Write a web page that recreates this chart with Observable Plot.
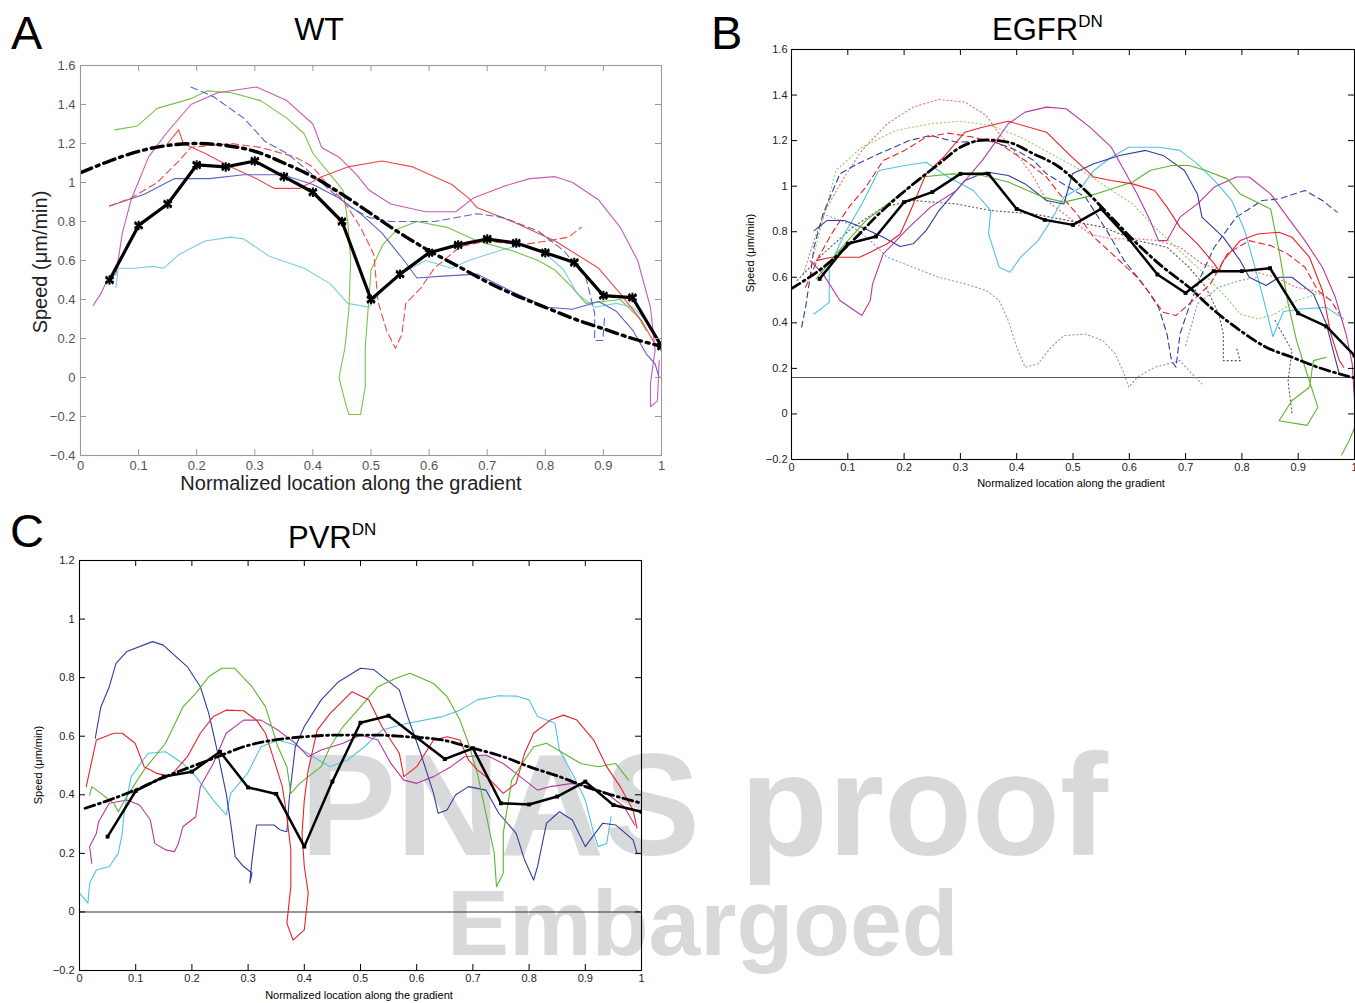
<!DOCTYPE html>
<html><head><meta charset="utf-8">
<script src="https://cdn.jsdelivr.net/npm/d3@7"></script>
<script src="https://cdn.jsdelivr.net/npm/@observablehq/plot@0.6"></script>
<style>
body{margin:0;background:#fff;width:1355px;height:1003px;position:relative;overflow:hidden;font-family:"Liberation Sans",Arial,sans-serif}
.panel{position:absolute;z-index:2}
.layer{position:absolute;left:0;top:0}
</style></head><body>
<svg class="layer" style="z-index:1" width="1355" height="1003">
  <g font-family="Liberation Sans, Arial, sans-serif" font-weight="bold" fill="#d8d9db">
    <text x="300" y="855" font-size="144">PNAS proof</text>
    <text x="447" y="955" font-size="93">Embargoed</text>
  </g>
</svg>
<div id="pa" class="panel" style="left:0;top:0"></div>
<div id="pb" class="panel" style="left:700px;top:0"></div>
<div id="pc" class="panel" style="left:0;top:500px"></div>
<svg class="layer" style="z-index:3;pointer-events:none" width="1355" height="1003">
  <g font-family="Liberation Sans, Arial, sans-serif" fill="#000">
    <text x="11" y="49" font-size="47">A</text>
    <text x="711" y="49" font-size="47">B</text>
    <text x="10" y="547" font-size="47">C</text>
    <text x="319" y="40" font-size="32" text-anchor="middle">WT</text>
    <text x="992" y="40" font-size="31">EGFR<tspan font-size="17" dy="-13">DN</tspan></text>
    <text x="288" y="548" font-size="31">PVR<tspan font-size="17" dy="-13">DN</tspan></text>
    <text x="351" y="490" font-size="20" text-anchor="middle" fill="#222">Normalized location along the gradient</text>
    <text transform="translate(47,262) rotate(-90)" font-size="20" text-anchor="middle" fill="#222">Speed (μm/min)</text>
    <text x="1071" y="487" font-size="11" text-anchor="middle">Normalized location along the gradient</text>
    <text transform="translate(754,253) rotate(-90)" font-size="11" text-anchor="middle">Speed (μm/min)</text>
    <text x="359" y="999" font-size="11" text-anchor="middle">Normalized location along the gradient</text>
    <text transform="translate(42,765) rotate(-90)" font-size="11" text-anchor="middle">Speed (μm/min)</text>
  </g>
</svg>
<script>
// ---------- shared tick values ----------
const xTicks = [0,0.1,0.2,0.3,0.4,0.5,0.6,0.7,0.8,0.9,1];
const yTicksA = [-0.4,-0.2,0,0.2,0.4,0.6,0.8,1,1.2,1.4,1.6];
const yTicksB = [-0.2,0,0.2,0.4,0.6,0.8,1,1.2,1.4,1.6];
const yTicksC = [-0.2,0,0.2,0.4,0.6,0.8,1,1.2];
const meanX = [0.05,0.1,0.15,0.2,0.25,0.3,0.35,0.4,0.45,0.5,0.55,0.6,0.65,0.7,0.75,0.8,0.85,0.9,0.95,1];

// ---------- Panel A (WT) ----------
const wtMean = [0.50,0.78,0.89,1.09,1.08,1.11,1.03,0.95,0.80,0.40,0.53,0.64,0.68,0.71,0.69,0.64,0.59,0.42,0.41,0.16];
const wtFitX = [0,0.05,0.1,0.15,0.2,0.25,0.3,0.35,0.4,0.45,0.5,0.55,0.6,0.65,0.7,0.75,0.8,0.85,0.9,0.95,1];
const wtFit  = [1.05,1.11,1.16,1.19,1.20,1.19,1.16,1.10,1.03,0.94,0.84,0.74,0.65,0.57,0.49,0.42,0.36,0.30,0.25,0.20,0.16];
const wtGreen = [[0.059,1.27],[0.098,1.29],[0.132,1.38],[0.19,1.43],[0.218,1.47],[0.26,1.46],[0.31,1.42],[0.355,1.33],[0.385,1.25],[0.40,1.15],[0.43,1.04],[0.452,0.96],[0.46,0.80],[0.465,0.60],[0.462,0.35],[0.455,0.15],[0.445,0.0],[0.455,-0.12],[0.462,-0.19],[0.482,-0.19],[0.49,-0.05],[0.49,0.15],[0.495,0.35],[0.50,0.55],[0.52,0.68],[0.545,0.76],[0.579,0.80],[0.631,0.77],[0.683,0.70],[0.743,0.65],[0.788,0.60],[0.817,0.55],[0.847,0.46],[0.87,0.38],[0.90,0.39],[0.929,0.40],[0.96,0.31],[0.974,0.24]];
const wtMagenta = [[0.022,0.37],[0.035,0.43],[0.046,0.50],[0.061,0.53],[0.072,0.74],[0.087,0.91],[0.117,1.13],[0.147,1.25],[0.19,1.40],[0.236,1.46],[0.303,1.49],[0.355,1.42],[0.40,1.30],[0.415,1.18],[0.445,1.13],[0.475,1.04],[0.497,0.96],[0.534,0.89],[0.594,0.85],[0.646,0.85],[0.676,0.92],[0.728,0.98],[0.773,1.02],[0.817,1.03],[0.847,1.0],[0.892,0.91],[0.929,0.77],[0.959,0.60],[0.981,0.36],[0.989,0.14],[0.981,-0.03],[0.981,-0.15],[0.993,-0.12],[0.996,0.09]];
const wtRed = [[0.15,1.20],[0.169,1.27],[0.177,1.20],[0.214,1.15],[0.259,1.08],[0.296,1.03],[0.333,0.97],[0.378,0.97],[0.415,1.03],[0.46,1.08],[0.519,1.11],[0.572,1.08],[0.639,0.99],[0.668,0.92],[0.683,0.87],[0.743,0.80],[0.817,0.70],[0.892,0.56],[0.929,0.43],[0.966,0.29],[0.989,0.17]];
const wtRedDash = [[0.05,0.88],[0.087,0.92],[0.132,1.0],[0.169,1.11],[0.19,1.18],[0.259,1.20],[0.31,1.18],[0.37,1.13],[0.40,1.08],[0.43,0.97],[0.452,0.91],[0.482,0.77],[0.505,0.63],[0.512,0.39],[0.527,0.24],[0.542,0.15],[0.553,0.22],[0.56,0.38],[0.586,0.46],[0.609,0.56],[0.653,0.67],[0.698,0.70],[0.758,0.68],[0.803,0.70],[0.84,0.72],[0.862,0.77]];
const wtBlue = [[0.05,0.88],[0.11,0.94],[0.162,1.02],[0.221,1.02],[0.281,1.04],[0.348,1.04],[0.40,0.99],[0.445,0.92],[0.482,0.84],[0.519,0.74],[0.557,0.60],[0.579,0.51],[0.624,0.52],[0.683,0.53],[0.743,0.44],[0.803,0.36],[0.847,0.35],[0.892,0.39],[0.922,0.34],[0.951,0.24],[0.974,0.12],[0.989,0.07],[0.996,0.0]];
const wtBlueDash = [[0.19,1.49],[0.229,1.44],[0.281,1.33],[0.318,1.21],[0.355,1.15],[0.40,1.04],[0.437,0.94],[0.467,0.87],[0.497,0.82],[0.534,0.80],[0.609,0.80],[0.683,0.84],[0.728,0.82],[0.788,0.75],[0.832,0.65],[0.87,0.51],[0.885,0.33],[0.885,0.19],[0.899,0.19],[0.902,0.31]];
const wtCyan = [[0.061,0.46],[0.065,0.56],[0.095,0.56],[0.124,0.57],[0.143,0.56],[0.169,0.63],[0.214,0.70],[0.259,0.72],[0.281,0.71],[0.326,0.62],[0.385,0.56],[0.43,0.48],[0.46,0.38],[0.497,0.36],[0.519,0.45],[0.549,0.53],[0.594,0.60],[0.639,0.56],[0.668,0.60],[0.72,0.65],[0.758,0.68],[0.803,0.63],[0.832,0.55],[0.855,0.43],[0.885,0.36],[0.922,0.38],[0.951,0.36],[0.974,0.29]];

// ---------- Panel B (EGFR DN) ----------
const egMean = [0.593,0.747,0.779,0.93,0.974,1.054,1.054,0.90,0.852,0.83,0.90,0.766,0.612,0.531,0.627,0.627,0.64,0.442,0.384,0.256];
const egFitX = [0,0.071,0.109,0.155,0.209,0.262,0.30,0.346,0.385,0.43,0.476,0.522,0.568,0.614,0.66,0.706,0.751,0.797,0.843,0.889,0.935,1];
const egFit  = [0.55,0.673,0.761,0.878,0.995,1.098,1.171,1.203,1.193,1.142,1.083,0.981,0.864,0.747,0.644,0.556,0.454,0.366,0.293,0.249,0.205,0.158];
const egLevel = [0.16];
const egRed = [[0.044,0.673],[0.071,0.688],[0.09,0.688],[0.121,0.688],[0.14,0.71],[0.17,0.747],[0.193,0.79],[0.209,0.878],[0.239,1.054],[0.27,1.127],[0.308,1.237],[0.339,1.259],[0.385,1.285],[0.453,1.237],[0.492,1.142],[0.537,1.04],[0.568,1.025],[0.606,1.01],[0.645,0.981],[0.667,0.908],[0.69,0.82],[0.721,0.747],[0.751,0.659],[0.759,0.63],[0.767,0.673],[0.797,0.761],[0.828,0.79],[0.866,0.798],[0.889,0.776],[0.92,0.688],[0.943,0.542],[0.958,0.351],[0.973,0.234],[0.981,0.205]];
const egGreen = [[0.044,0.593],[0.079,0.703],[0.132,0.849],[0.186,0.952],[0.232,1.04],[0.285,1.054],[0.339,1.047],[0.385,1.018],[0.446,0.952],[0.484,0.93],[0.522,0.952],[0.56,0.981],[0.606,1.018],[0.637,1.069],[0.675,1.091],[0.706,1.091],[0.736,1.069],[0.774,1.032],[0.797,0.966],[0.851,0.90],[0.866,0.717],[0.881,0.498],[0.897,0.322],[0.912,0.205],[0.935,0.029],[0.916,-0.05],[0.866,-0.03],[0.889,0.059],[0.92,0.117],[0.927,0.234],[0.95,0.249]];
const egGreen2 = [[0.977,-0.18],[0.99,-0.12],[1.0,-0.06]];
const egBlue = [[0.04,0.805],[0.063,0.849],[0.094,0.849],[0.125,0.82],[0.163,0.776],[0.193,0.735],[0.216,0.747],[0.239,0.805],[0.262,0.893],[0.308,1.025],[0.346,1.062],[0.385,1.047],[0.415,1.01],[0.453,0.937],[0.484,0.922],[0.499,1.054],[0.537,1.098],[0.583,1.135],[0.629,1.157],[0.66,1.135],[0.698,1.069],[0.721,0.966],[0.729,0.864],[0.767,0.776],[0.797,0.673],[0.813,0.60],[0.843,0.564],[0.866,0.60],[0.889,0.60],[0.927,0.527],[0.95,0.395],[0.962,0.278],[0.973,0.176]];
const egCyan = [[0.04,0.439],[0.067,0.49],[0.067,0.644],[0.094,0.79],[0.125,0.922],[0.155,1.069],[0.201,1.091],[0.239,1.105],[0.278,1.04],[0.323,0.981],[0.354,0.893],[0.35,0.79],[0.369,0.644],[0.388,0.622],[0.407,0.688],[0.438,0.761],[0.461,0.849],[0.484,0.952],[0.515,0.996],[0.537,1.069],[0.568,1.127],[0.599,1.171],[0.652,1.171],[0.69,1.157],[0.721,1.098],[0.751,1.025],[0.782,0.937],[0.805,0.805],[0.82,0.673],[0.836,0.527],[0.855,0.34],[0.874,0.45],[0.904,0.461],[0.95,0.468],[0.981,0.417]];
const egMagenta = [[0.033,0.673],[0.056,0.615],[0.086,0.498],[0.125,0.432],[0.14,0.498],[0.144,0.571],[0.163,0.703],[0.186,0.761],[0.209,0.82],[0.247,0.908],[0.293,0.981],[0.339,1.113],[0.385,1.274],[0.415,1.325],[0.453,1.347],[0.488,1.34],[0.53,1.259],[0.568,1.171],[0.591,1.069],[0.614,0.966],[0.637,0.849],[0.652,0.761],[0.667,0.761],[0.69,0.864],[0.721,0.922],[0.751,0.996],[0.79,1.04],[0.813,1.04],[0.851,0.966],[0.881,0.864],[0.912,0.761],[0.943,0.644],[0.966,0.512],[0.985,0.351],[0.996,0.22],[1.0,0.059]];
const egBlueDash = [[0.018,0.381],[0.025,0.468],[0.033,0.6],[0.04,0.732],[0.056,0.878],[0.071,0.966],[0.086,1.054],[0.117,1.098],[0.155,1.142],[0.209,1.20],[0.247,1.223],[0.293,1.193],[0.354,1.20],[0.40,1.157],[0.43,1.113],[0.453,1.054],[0.492,0.996],[0.522,0.952],[0.56,0.805],[0.591,0.673],[0.629,0.556],[0.652,0.468],[0.667,0.351],[0.675,0.234],[0.683,0.205],[0.69,0.351],[0.706,0.468],[0.729,0.615],[0.751,0.732],[0.79,0.864],[0.836,0.937],[0.866,0.944],[0.912,0.981],[0.943,0.937],[0.969,0.886]];
const egRedDash = [[0.025,0.556],[0.048,0.688],[0.071,0.79],[0.102,0.908],[0.132,0.996],[0.163,1.113],[0.201,1.157],[0.239,1.215],[0.278,1.233],[0.323,1.215],[0.369,1.186],[0.415,1.113],[0.453,1.04],[0.476,0.966],[0.507,0.878],[0.537,0.776],[0.576,0.688],[0.614,0.60],[0.637,0.527],[0.66,0.447],[0.683,0.432],[0.713,0.498],[0.744,0.571],[0.774,0.703],[0.813,0.761],[0.851,0.739],[0.881,0.703],[0.912,0.644],[0.935,0.542],[0.958,0.498],[0.973,0.439]];
const egRedDot = [[0.021,0.615],[0.04,0.761],[0.063,0.908],[0.094,1.04],[0.125,1.157],[0.17,1.274],[0.216,1.347],[0.262,1.381],[0.308,1.369],[0.346,1.31],[0.369,1.23],[0.40,1.142],[0.43,1.04],[0.453,0.937],[0.492,0.864],[0.53,0.79],[0.568,0.769],[0.614,0.769],[0.652,0.761],[0.69,0.732],[0.729,0.659],[0.767,0.63],[0.813,0.63],[0.859,0.60],[0.897,0.556],[0.927,0.542],[0.95,0.512]];
const egGreenDot = [[0.04,0.703],[0.079,1.069],[0.125,1.171],[0.186,1.245],[0.247,1.274],[0.30,1.285],[0.354,1.267],[0.407,1.215],[0.461,1.142],[0.515,1.069],[0.56,0.996],[0.606,0.922],[0.645,0.82],[0.683,0.732],[0.721,0.644],[0.767,0.527],[0.797,0.439],[0.828,0.417],[0.859,0.439],[0.897,0.498],[0.935,0.527]];
const egBlueDot = [[0.056,0.878],[0.102,0.834],[0.14,0.761],[0.17,0.688],[0.216,0.644],[0.262,0.60],[0.308,0.571],[0.346,0.542],[0.369,0.498],[0.385,0.41],[0.40,0.293],[0.415,0.205],[0.438,0.22],[0.461,0.293],[0.484,0.344],[0.522,0.351],[0.553,0.322],[0.575,0.264],[0.591,0.176],[0.599,0.117],[0.614,0.161],[0.645,0.205],[0.69,0.234],[0.706,0.19],[0.729,0.132]];
const egBlueDot2 = [[0.70,0.30],[0.721,0.483],[0.759,0.556],[0.797,0.586],[0.828,0.60]];
const egBlackDot = [[0.01,0.586],[0.056,0.703],[0.109,0.82],[0.163,0.908],[0.216,0.937],[0.293,0.922],[0.354,0.893],[0.43,0.878],[0.492,0.849],[0.553,0.82],[0.614,0.761],[0.667,0.732],[0.706,0.644],[0.736,0.556],[0.759,0.439],[0.767,0.351],[0.767,0.234],[0.797,0.234],[0.79,0.293]];
const egBlackDot2 = [[0.859,0.41],[0.889,0.278],[0.882,0.146],[0.889,0.0]];

// ---------- Panel C (PVR DN) ----------
const pvMean = [0.257,0.413,0.462,0.479,0.547,0.425,0.403,0.223,0.445,0.646,0.67,0.596,0.522,0.559,0.371,0.367,0.394,0.445,0.365,0.342];
const pvFitX = [0.01,0.053,0.099,0.153,0.199,0.246,0.292,0.346,0.40,0.461,0.523,0.584,0.646,0.70,0.754,0.80,0.854,0.90,0.946,1.0];
const pvFit  = [0.354,0.382,0.416,0.462,0.496,0.53,0.564,0.587,0.598,0.604,0.604,0.598,0.587,0.559,0.53,0.496,0.462,0.428,0.40,0.371];
const pvLevel = [0];
const pvBlue = [[0.028,0.593],[0.038,0.70],[0.053,0.769],[0.065,0.849],[0.084,0.889],[0.13,0.923],[0.149,0.911],[0.192,0.837],[0.215,0.769],[0.23,0.678],[0.246,0.542],[0.261,0.405],[0.269,0.303],[0.277,0.189],[0.292,0.155],[0.307,0.132],[0.303,0.098],[0.307,0.177],[0.315,0.297],[0.33,0.297],[0.346,0.297],[0.357,0.28],[0.369,0.274],[0.373,0.382],[0.384,0.564],[0.40,0.633],[0.43,0.724],[0.461,0.786],[0.50,0.832],[0.523,0.828],[0.569,0.758],[0.584,0.667],[0.607,0.542],[0.63,0.405],[0.638,0.337],[0.654,0.348],[0.669,0.399],[0.692,0.428],[0.723,0.416],[0.746,0.337],[0.777,0.268],[0.792,0.177],[0.808,0.109],[0.815,0.155],[0.831,0.303],[0.854,0.342],[0.877,0.314],[0.90,0.223],[0.931,0.303],[0.954,0.297],[0.985,0.246],[0.992,0.20]];
const pvGreen = [[0.018,0.399],[0.022,0.428],[0.038,0.405],[0.061,0.371],[0.069,0.342],[0.084,0.394],[0.115,0.485],[0.153,0.576],[0.184,0.70],[0.207,0.746],[0.23,0.803],[0.253,0.832],[0.276,0.832],[0.307,0.769],[0.331,0.70],[0.353,0.564],[0.369,0.496],[0.376,0.405],[0.392,0.439],[0.407,0.462],[0.43,0.496],[0.446,0.564],[0.469,0.633],[0.50,0.70],[0.531,0.769],[0.562,0.797],[0.588,0.815],[0.63,0.78],[0.654,0.735],[0.677,0.655],[0.692,0.576],[0.708,0.473],[0.723,0.337],[0.738,0.20],[0.742,0.086],[0.754,0.132],[0.754,0.268],[0.769,0.45],[0.792,0.519],[0.808,0.564],[0.831,0.576],[0.861,0.542],[0.892,0.507],[0.923,0.496],[0.954,0.507],[0.977,0.45]];
const pvRed = [[0.012,0.428],[0.03,0.587],[0.061,0.61],[0.076,0.61],[0.099,0.576],[0.115,0.496],[0.138,0.473],[0.161,0.462],[0.192,0.53],[0.215,0.61],[0.238,0.667],[0.261,0.689],[0.292,0.687],[0.315,0.655],[0.331,0.61],[0.346,0.519],[0.361,0.428],[0.369,0.325],[0.376,0.212],[0.376,0.086],[0.369,-0.039],[0.38,-0.096],[0.40,-0.061],[0.407,0.064],[0.40,0.155],[0.396,0.268],[0.40,0.382],[0.407,0.485],[0.423,0.621],[0.446,0.678],[0.485,0.752],[0.515,0.724],[0.538,0.633],[0.569,0.542],[0.577,0.462],[0.60,0.496],[0.63,0.587],[0.654,0.598],[0.677,0.587],[0.692,0.519],[0.708,0.485],[0.731,0.45],[0.754,0.405],[0.777,0.439],[0.792,0.542],[0.808,0.61],[0.838,0.655],[0.861,0.672],[0.885,0.655],[0.915,0.587],[0.938,0.496],[0.962,0.428],[0.985,0.348],[0.992,0.286]];
const pvMagenta = [[0.022,0.166],[0.018,0.223],[0.03,0.268],[0.034,0.308],[0.053,0.371],[0.084,0.382],[0.107,0.365],[0.126,0.314],[0.134,0.234],[0.153,0.212],[0.169,0.206],[0.176,0.234],[0.184,0.291],[0.207,0.325],[0.215,0.428],[0.238,0.507],[0.261,0.61],[0.292,0.655],[0.323,0.655],[0.353,0.621],[0.384,0.576],[0.407,0.53],[0.43,0.553],[0.469,0.576],[0.50,0.604],[0.531,0.587],[0.554,0.507],[0.577,0.45],[0.60,0.439],[0.63,0.462],[0.661,0.496],[0.685,0.53],[0.723,0.536],[0.754,0.507],[0.784,0.462],[0.815,0.416],[0.838,0.428],[0.877,0.439],[0.908,0.428],[0.938,0.405],[0.969,0.359],[0.988,0.297]];
const pvCyan = [[0.0,0.064],[0.015,0.03],[0.018,0.098],[0.03,0.143],[0.053,0.155],[0.069,0.20],[0.076,0.268],[0.08,0.348],[0.092,0.462],[0.122,0.542],[0.153,0.547],[0.184,0.507],[0.207,0.462],[0.238,0.382],[0.261,0.331],[0.269,0.405],[0.299,0.473],[0.323,0.564],[0.353,0.587],[0.384,0.57],[0.415,0.53],[0.446,0.496],[0.477,0.519],[0.507,0.564],[0.538,0.621],[0.584,0.644],[0.646,0.667],[0.677,0.689],[0.708,0.724],[0.746,0.738],[0.777,0.737],[0.80,0.724],[0.815,0.667],[0.846,0.644],[0.854,0.553],[0.877,0.473],[0.90,0.382],[0.915,0.268],[0.923,0.223],[0.938,0.234],[0.946,0.325]];

// ---------- drawing ----------
const fmt = d => String(+(+d).toFixed(2)).replace("-", "\u2212");
const DASH = "7,4", DOT = "1.2,2.8";

function panel(el, cfg) {
  const pw = cfg.width - cfg.ml - cfg.mr, ph = cfg.height - cfg.mt - cfg.mb;
  const [y0, y1] = cfg.ydom;
  const ty = 6 * (y1 - y0) / ph, tx = 6 / pw;
  const marks = [];
  for (const lv of (cfg.levels || [])) marks.push(Plot.ruleY(lv.values, {stroke: lv.color, strokeWidth: 1.1}));
  for (const t of cfg.traces) {
    marks.push(Plot.line(t.data, {x: d => d[0], y: d => d[1], stroke: t.color, strokeWidth: t.w || 1.1,
      strokeDasharray: t.dash || null, strokeLinejoin: "round"}));
  }
  marks.push(Plot.line(cfg.fitX.map((x, i) => [x, cfg.fit[i]]), {x: d => d[0], y: d => d[1], stroke: "#000",
    strokeWidth: cfg.fitW, strokeDasharray: cfg.fitDash, curve: "monotone-x"}));
  const mp = meanX.map((x, i) => [x, cfg.mean[i]]);
  marks.push(Plot.line(mp, {x: d => d[0], y: d => d[1], stroke: "#000", strokeWidth: cfg.meanW}));
  if (cfg.star) {
    marks.push(Plot.dot(mp, {x: d => d[0], y: d => d[1], symbol: "asterisk", r: 4.5, stroke: "#000", strokeWidth: 2}));
    marks.push(Plot.dot(mp, {x: d => d[0], y: d => d[1], symbol: "times", r: 3.5, stroke: "#000", strokeWidth: 2}));
  } else {
    marks.push(Plot.dot(mp, {x: d => d[0], y: d => d[1], symbol: "square", r: 2.2, fill: "#000"}));
  }
  // inward ticks (box style) on all four sides
  marks.push(Plot.ruleX(xTicks, {x: d => d, y1: y0, y2: y0 + ty, stroke: cfg.tickColor}));
  marks.push(Plot.ruleX(xTicks, {x: d => d, y1: y1, y2: y1 - ty, stroke: cfg.tickColor}));
  marks.push(Plot.ruleY(cfg.yticks, {y: d => d, x1: 0, x2: tx, stroke: cfg.tickColor}));
  marks.push(Plot.ruleY(cfg.yticks, {y: d => d, x1: 1, x2: 1 - tx, stroke: cfg.tickColor}));
  marks.push(Plot.frame({stroke: cfg.frameColor, strokeWidth: 1.1}));
  marks.push(Plot.axisX(xTicks, {tickSize: 0, tickPadding: cfg.xpad, tickFormat: fmt, label: null}));
  marks.push(Plot.axisY(cfg.yticks, {tickSize: 0, tickPadding: cfg.ypad, tickFormat: fmt, label: null}));
  const svg = Plot.plot({
    width: cfg.width, height: cfg.height,
    marginTop: cfg.mt, marginRight: cfg.mr, marginBottom: cfg.mb, marginLeft: cfg.ml,
    x: {domain: [0, 1]}, y: {domain: cfg.ydom},
    clip: true,
    style: {background: "transparent", fontSize: cfg.fs + "px", color: cfg.labelColor, fontFamily: "Liberation Sans, Arial, sans-serif"},
    marks
  });
  el.appendChild(svg);
}

const cA = {red: "#f0474a", green: "#78c24a", blue: "#5a64c4", cyan: "#78cde2", magenta: "#c85ab8"};
panel(document.getElementById("pa"), {
  width: 680, height: 500, mt: 65, mr: 19, mb: 45, ml: 80, ydom: [-0.4, 1.6], yticks: yTicksA,
  frameColor: "#9a9a9a", tickColor: "#9a9a9a", labelColor: "#555", fs: 13, xpad: 5, ypad: 5,
  mean: wtMean, fitX: wtFitX, fit: wtFit, fitW: 3.4, fitDash: "12,5,3,5", meanW: 3.2, star: true,
  traces: [
    {data: wtCyan, color: cA.cyan}, {data: wtGreen, color: cA.green}, {data: wtMagenta, color: cA.magenta},
    {data: wtRed, color: cA.red}, {data: wtBlue, color: cA.blue},
    {data: wtRedDash, color: cA.red, dash: DASH}, {data: wtBlueDash, color: cA.blue, dash: DASH}
  ]
});

const cB = {red: "#e8222a", green: "#5cb52e", blue: "#2f3d9e", cyan: "#4fc3e4", magenta: "#b8389e"};
panel(document.getElementById("pb"), {
  width: 655, height: 500, mt: 49, mr: 1, mb: 41, ml: 91, ydom: [-0.2, 1.6], yticks: yTicksB,
  frameColor: "#000", tickColor: "#000", labelColor: "#222", fs: 11, xpad: 4, ypad: 4,
  mean: egMean, fitX: egFitX, fit: egFit, fitW: 2.8, fitDash: "10,4,2,4", meanW: 2.5, star: false,
  levels: [{values: egLevel, color: "#555"}],
  traces: [
    {data: egBlueDot, color: "#8f8fe0", dash: DOT}, {data: egBlueDot2, color: "#8f8fe0", dash: DOT},
    {data: egGreenDot, color: "#8ed06a", dash: DOT}, {data: egRedDot, color: "#f06a6a", dash: DOT},
    {data: egBlackDot, color: "#555", dash: DOT}, {data: egBlackDot2, color: "#555", dash: DOT},
    {data: egBlueDash, color: cB.blue, dash: "6,4"}, {data: egRedDash, color: cB.red, dash: "6,4"},
    {data: egCyan, color: cB.cyan}, {data: egBlue, color: cB.blue}, {data: egGreen, color: cB.green},
    {data: egGreen2, color: cB.green}, {data: egMagenta, color: cB.magenta}, {data: egRed, color: cB.red}
  ]
});

panel(document.getElementById("pc"), {
  width: 680, height: 503, mt: 60, mr: 39, mb: 33, ml: 79, ydom: [-0.2, 1.2], yticks: yTicksC,
  frameColor: "#000", tickColor: "#000", labelColor: "#222", fs: 11, xpad: 4, ypad: 5,
  mean: pvMean, fitX: pvFitX, fit: pvFit, fitW: 2.8, fitDash: "10,4,2,4", meanW: 2.5, star: false,
  levels: [{values: pvLevel, color: "#333"}],
  traces: [
    {data: pvCyan, color: cB.cyan}, {data: pvMagenta, color: cB.magenta}, {data: pvBlue, color: cB.blue},
    {data: pvGreen, color: cB.green}, {data: pvRed, color: cB.red}
  ]
});
</script>
</body></html>
